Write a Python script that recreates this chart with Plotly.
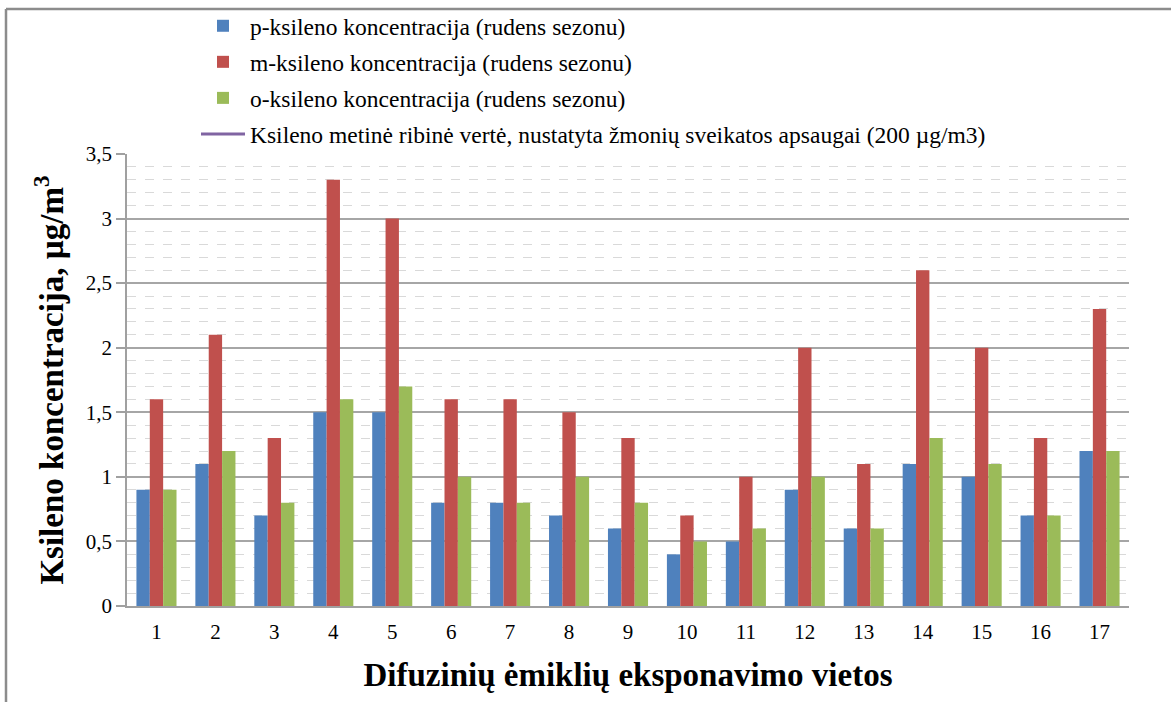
import plotly.graph_objects as go

# Sampling locations and measured autumn-season concentrations (µg/m3)
locations = [str(i) for i in range(1, 18)]
p_xylene = [0.9, 1.1, 0.7, 1.5, 1.5, 0.8, 0.8, 0.7, 0.6, 0.4, 0.5, 0.9, 0.6, 1.1, 1.0, 0.7, 1.2]
m_xylene = [1.6, 2.1, 1.3, 3.3, 3.0, 1.6, 1.6, 1.5, 1.3, 0.7, 1.0, 2.0, 1.1, 2.6, 2.0, 1.3, 2.3]
o_xylene = [0.9, 1.2, 0.8, 1.6, 1.7, 1.0, 0.8, 1.0, 0.8, 0.5, 0.6, 1.0, 0.6, 1.3, 1.1, 0.7, 1.2]
# Annual limit value for human health protection
limit_value = [200] * len(locations)

series_names = [
    "p-ksileno koncentracija (rudens sezonu)",
    "m-ksileno koncentracija (rudens sezonu)",
    "o-ksileno koncentracija (rudens sezonu)",
    "Ksileno metinė ribinė vertė, nustatyta žmonių sveikatos apsaugai (200 µg/m3)",
]
y_ticks = [0, 0.5, 1, 1.5, 2, 2.5, 3, 3.5]

FONT = "Liberation Serif, Times New Roman, serif"
W, H = 1171, 702
L, R, T, B = 127, 42, 154, 96

fig = go.Figure()
for i, (vals, col) in enumerate(zip([p_xylene, m_xylene, o_xylene],
                                   ["#4F81BD", "#C0504D", "#9BBB59"])):
    fig.add_trace(go.Bar(x=locations, y=vals, name=series_names[i],
                         marker=dict(color=col, line=dict(width=0)),
                         legendgroup=f"g{i}"))
fig.add_trace(go.Scatter(x=locations, y=limit_value, name=series_names[3],
                         mode="lines", line=dict(color="#8064A2", width=3),
                         legendgroup="g3", cliponaxis=True))

pw = W - L - R
ph = H - T - B

def px_x(x):
    return (x - L) / pw

def px_y(y):
    return 1 - (y - T) / ph

# outer chart frame (top and left edges visible)
frame = dict(type="line", xref="paper", yref="paper",
             line=dict(color="#8c8c8c", width=2.5), layer="above")
fig.add_shape(**frame, x0=px_x(6), x1=px_x(W + 20), y0=px_y(9), y1=px_y(9))
fig.add_shape(**frame, x0=px_x(6), x1=px_x(6), y0=px_y(9), y1=px_y(H + 20))

fig.update_layout(
    width=W, height=H,
    margin=dict(l=L, r=R, t=T, b=B, autoexpand=False),
    paper_bgcolor="white", plot_bgcolor="white",
    separators=", ",
    barmode="group", bargap=0.32, bargroupgap=0,
    font=dict(family=FONT, color="black"),
    showlegend=True,
    legend=dict(x=px_x(196), y=px_y(4), xanchor="left", yanchor="top",
                font=dict(family=FONT, size=23.5, color="black"),
                traceorder="grouped", tracegroupgap=2.5,
                itemwidth=44, bgcolor="rgba(0,0,0,0)"),
    xaxis=dict(
        type="category",
        showline=True, linecolor="#a0a0a0", linewidth=1.5,
        ticks="", showgrid=False,
        tickfont=dict(family=FONT, size=21, color="black"),
        ticklabelstandoff=6,
        title=dict(text="<b>Difuzinių ėmiklių eksponavimo vietos</b>",
                   font=dict(family=FONT, size=33, color="black"), standoff=20),
    ),
    yaxis=dict(
        range=[0, 3.5], tickvals=y_ticks,
        showline=True, linecolor="#a0a0a0", linewidth=1.5,
        ticks="outside", ticklen=9, tickcolor="#a0a0a0", tickwidth=1.5,
        showgrid=True, gridcolor="#a6a6a6", gridwidth=1.5,
        zeroline=False,
        minor=dict(dtick=0.1, showgrid=True, gridcolor="#d9d9d9",
                   griddash="dash", gridwidth=1, ticks=""),
        tickfont=dict(family=FONT, size=21, color="black"),
        title=dict(text="<b>Ksileno koncentracija, µg/m<sup>3</sup></b>",
                   font=dict(family=FONT, size=33, color="black"), standoff=12),
    ),
)

fig.write_html("out.html")
